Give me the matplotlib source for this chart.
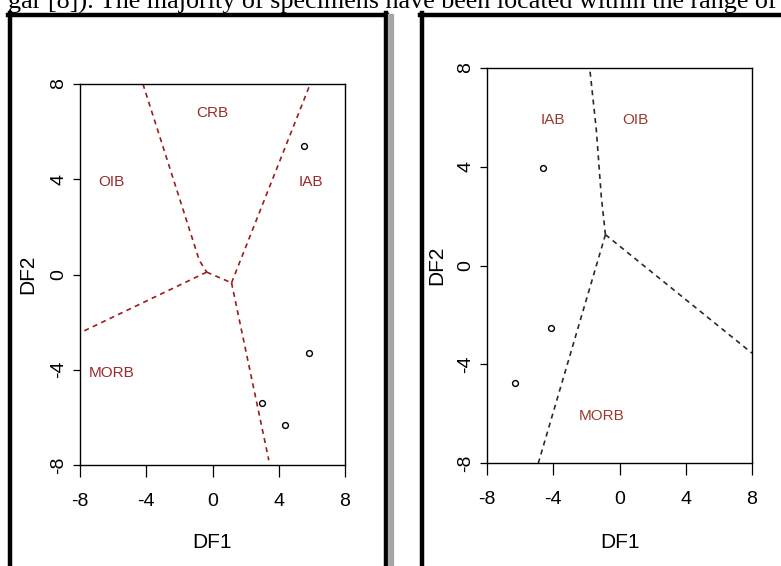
import matplotlib
matplotlib.use('Agg')
import matplotlib.pyplot as plt
from matplotlib.lines import Line2D

W, H = 781, 566

# tick values shared by both panels
ticks = [-8, -4, 0, 4, 8]

# left panel: boundaries (dark red), samples and field names
left_lines_x = [[-4.2, -0.8, -0.35], [-0.35, 1.15], [1.15, 5.9], [-0.35, -8], [1.15, 3.4]]
left_lines_y = [[8, 0.6, 0.1], [0.1, -0.35], [-0.35, 8], [0.1, -2.45], [-0.35, -7.8]]
left_pts_x = [5.5, 5.8, 3.0, 4.4]
left_pts_y = [5.4, -3.3, -5.4, -6.3]
left_names = ['CRB', 'OIB', 'IAB', 'MORB']
left_names_x = [0.0, -6.1, 5.95, -6.1]
left_names_y = [6.8, 3.9, 3.9, -4.15]

# right panel
right_lines_x = [[-0.85, -1.1, -1.4, -1.8], [-0.85, -4.9], [-0.85, 8]]
right_lines_y = [[1.25, 2.8, 5.5, 8], [1.25, -8], [1.25, -3.55]]
right_pts_x = [-4.6, -4.15, -6.3]
right_pts_y = [3.95, -2.55, -4.75]
right_names = ['IAB', 'OIB', 'MORB']
right_names_x = [-4.05, 0.95, -1.05]
right_names_y = [5.9, 5.9, -6.1]

caption = 'gar [8]). The majority of specimens have been located within the range of'

plt.rcParams['font.family'] = ['Liberation Sans', 'DejaVu Sans']
plt.rcParams['axes.unicode_minus'] = False

fig = plt.figure(figsize=(W / 100, H / 100), dpi=100)


def px_axes(x0, y0, x1, y1):
    # pixel box (top-down image coords) -> figure axes
    return fig.add_axes([x0 / W, 1 - y1 / H, (x1 - x0) / W, (y1 - y0) / H])


def fig_line(xs, ys, **kw):
    fig.add_artist(Line2D([x / W for x in xs], [1 - y / H for y in ys],
                          transform=fig.transFigure, **kw))


def style(ax, x0, y0, x1, y1, xlab_y, ylab_x):
    ax.set_xlim(-8, 8)
    ax.set_ylim(-8, 8)
    ax.set_xticks(ticks)
    ax.set_yticks(ticks)
    ax.tick_params(axis='x', length=8.5, width=0.9, pad=12, labelsize=14)
    ax.tick_params(axis='y', length=5, width=0.9, pad=4, labelsize=14, labelrotation=90)
    for lab in ax.get_yticklabels():
        lab.set_va('center')
    for s in ax.spines.values():
        s.set_linewidth(1.0)
    ax.set_xlabel('DF1', fontsize=15)
    ax.set_ylabel('DF2', fontsize=15)
    ax.xaxis.set_label_coords(0.5, (y1 - xlab_y) / (y1 - y0))
    ax.xaxis.label.set_va('center')
    ax.yaxis.set_label_coords((ylab_x - x0) / (x1 - x0), 0.5)
    ax.yaxis.label.set_va('center')


# left panel
box = (80, 84, 345, 465)
ax1 = px_axes(*box)
for xs, ys in zip(left_lines_x, left_lines_y):
    ax1.plot(xs, ys, color='#9b1c1c', lw=1.2, ls=(0, (3, 2.6)))
ax1.plot(left_pts_x, left_pts_y, 'o', mfc='none', mec='black', ms=4.2, mew=1)
for t, x, y in zip(left_names, left_names_x, left_names_y):
    ax1.text(x, y, t, color='#9b2a2a', fontsize=11, ha='center', va='center')
style(ax1, *box, xlab_y=542, ylab_x=28)

# right panel
box = (487, 68, 752, 463)
ax2 = px_axes(*box)
for xs, ys in zip(right_lines_x, right_lines_y):
    ax2.plot(xs, ys, color='#2a2a2a', lw=1.2, ls=(0, (3, 2.6)))
ax2.plot(right_pts_x, right_pts_y, 'o', mfc='none', mec='black', ms=4.2, mew=1)
for t, x, y in zip(right_names, right_names_x, right_names_y):
    ax2.text(x, y, t, color='#9a3a2e', fontsize=11, ha='center', va='center')
style(ax2, *box, xlab_y=542, ylab_x=437)

# frames around the two pictures
fig_line([10, 10], [13, 570], color='black', lw=3.2)
fig_line([8, 387], [15, 15], color='black', lw=3.2)
fig_line([385.5, 385.5], [13, 570], color='black', lw=3.2)
fig_line([391, 391], [17, 570], color='#a6a6a6', lw=4.5)
fig_line([421.5, 421.5], [13, 570], color='black', lw=3.2)
fig_line([420, 790], [15, 15], color='black', lw=3.2)

# cut-off line of body text on top
full = fig.text(777 / W, 1 - 9 / H, caption, ha='right', va='baseline',
                family=['Liberation Serif', 'DejaVu Serif'], fontsize=18)
r = fig.canvas.get_renderer()
probe = fig.text(0, 0, caption[caption.index('The'):], family=['Liberation Serif', 'DejaVu Serif'],
                 fontsize=18)
wpx = probe.get_window_extent(r).width
probe.remove()
full.set_fontsize(18 * 680 / wpx)

fig.savefig('out.png', dpi=100)
